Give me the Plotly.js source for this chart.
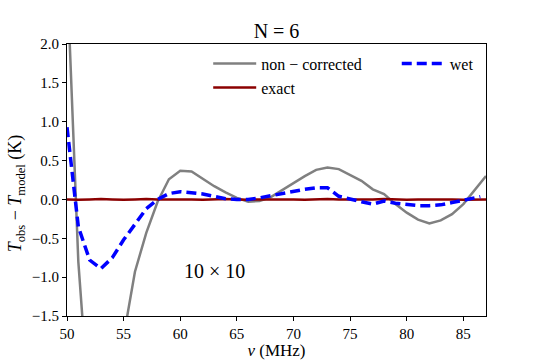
<!DOCTYPE html>
<html>
<head>
<meta charset="utf-8">
<script src="https://cdn.plot.ly/plotly-3.0.1.min.js"></script>
<style>
  html, body { margin: 0; padding: 0; background: #fff; }
  #chart { width: 540px; height: 360px; }
</style>
</head>
<body>
<div id="chart"></div>
<script>
// Frequency grid (MHz)
const freq = [50, 51, 52, 53, 54, 55, 56, 57, 58, 59, 60, 61, 62, 63, 64, 65, 66, 67, 68,
  69, 70, 71, 72, 73, 74, 75, 76, 77, 78, 79, 80, 81, 82, 83, 84, 85, 86, 87];

// Residuals without correction (K)
const nonCorrected = [2.9, -0.8, -2.8, -3.0, -2.6, -1.75, -0.93, -0.43, -0.03, 0.26, 0.37, 0.36,
  0.26, 0.17, 0.09, 0.02, -0.03, -0.02, 0.03, 0.12, 0.22, 0.30, 0.38, 0.41, 0.39, 0.32,
  0.24, 0.13, 0.07, -0.06, -0.17, -0.26, -0.31, -0.27, -0.19, -0.06, 0.12, 0.30];

// Residuals with the exact model (K)
const exact = [0.0, -0.005, 0.0, 0.005, 0.0, -0.005, 0.0, 0.005, 0.0, 0.0, 0.005, 0.0,
  -0.005, 0.0, 0.005, 0.0, -0.005, 0.0, 0.0, 0.005, 0.0, -0.005, 0.0, 0.005, 0.0, 0.0,
  -0.005, 0.0, 0.005, 0.0, -0.005, 0.0, 0.0, 0.005, 0.0, -0.005, 0.0, 0.0];

// Residuals with the wet correction (K)
const freqWet = [50, 51, 52, 53, 54, 55, 56, 57, 58, 59, 60, 61, 62, 63, 64, 65, 66, 67, 68,
  69, 70, 71, 72, 73, 74, 75, 76, 77, 78, 79, 80, 81, 82, 83, 84, 85, 86, 86.5];
const wet = [0.93, -0.35, -0.78, -0.89, -0.75, -0.52, -0.32, -0.12, 0.0, 0.075, 0.10, 0.09,
  0.07, 0.04, 0.01, 0.0, 0.0, 0.02, 0.05, 0.07, 0.11, 0.13, 0.15, 0.15, 0.04, 0.0,
  -0.03, -0.06, -0.02, -0.05, -0.07, -0.08, -0.08, -0.07, -0.04, -0.01, 0.02, 0.035];

const xTicks = [50, 55, 60, 65, 70, 75, 80, 85];
const yTicks = [-1.5, -1.0, -0.5, 0.0, 0.5, 1.0, 1.5, 2.0];

const serif = "'Liberation Serif', serif";

const greyTrace = {
  x: freq,
  y: nonCorrected,
  name: "non − corrected",
  mode: "lines",
  legend: "legend",
  line: { color: "#808080", width: 2.5 }
};

const exactTrace = {
  x: freq,
  y: exact,
  name: "exact",
  mode: "lines",
  legend: "legend",
  line: { color: "#8b0000", width: 2.5 }
};

const wetTrace = {
  x: freqWet,
  y: wet,
  name: "wet",
  mode: "lines",
  legend: "legend2",
  line: { color: "#0000ff", width: 3.5, dash: "10px,5px" }
};

const layout = {
  width: 540,
  height: 360,
  margin: { l: 67, r: 54, t: 44, b: 44 },
  paper_bgcolor: "#fff",
  plot_bgcolor: "#fff",
  font: { family: serif, size: 15, color: "#000" },
  title: {
    text: "N = 6",
    font: { family: serif, size: 20, color: "#000" },
    x: 0.5,
    xref: "paper",
    y: 0.915,
    yanchor: "middle"
  },
  xaxis: {
    range: [50, 87],
    tickvals: xTicks,
    ticks: "outside",
    ticklen: 4,
    tickcolor: "#000",
    showline: true,
    linecolor: "#000",
    linewidth: 1,
    mirror: true,
    showgrid: false,
    zeroline: false,
    tickfont: { family: serif, size: 15 },
    title: { text: "<i>ν</i> (MHz)", font: { family: serif, size: 17 }, standoff: 3 }
  },
  yaxis: {
    range: [-1.5, 2.0],
    tickvals: yTicks,
    tickformat: ".1f",
    ticks: "outside",
    ticklen: 4,
    tickcolor: "#000",
    showline: true,
    linecolor: "#000",
    linewidth: 1,
    mirror: true,
    showgrid: false,
    zeroline: false,
    tickfont: { family: serif, size: 15 }
  },
  legend: {
    x: 0.337,
    y: 0.99,
    xanchor: "left",
    yanchor: "top",
    itemwidth: 43,
    bgcolor: "rgba(0,0,0,0)",
    font: { family: serif, size: 16 },
    tracegroupgap: 0
  },
  legend2: {
    x: 0.787,
    y: 0.99,
    xanchor: "left",
    yanchor: "top",
    itemwidth: 43,
    bgcolor: "rgba(0,0,0,0)",
    font: { family: serif, size: 16 }
  },
  annotations: [
    {
      x: 63,
      y: -0.92,
      xref: "x",
      yref: "y",
      text: "10 × 10",
      showarrow: false,
      font: { family: serif, size: 20, color: "#000" }
    },
    {
      // y-axis title, placed where the reference centres it
      x: -0.12,
      y: 0.45,
      xref: "paper",
      yref: "paper",
      xanchor: "center",
      yanchor: "middle",
      textangle: -90,
      text: "<i>T</i><sub>obs</sub> − <i>T</i><sub>model</sub> (K)",
      showarrow: false,
      font: { family: serif, size: 18, color: "#000" }
    }
  ]
};

Plotly.newPlot("chart", [greyTrace, exactTrace, wetTrace], layout, { displayModeBar: false });
</script>
</body>
</html>
